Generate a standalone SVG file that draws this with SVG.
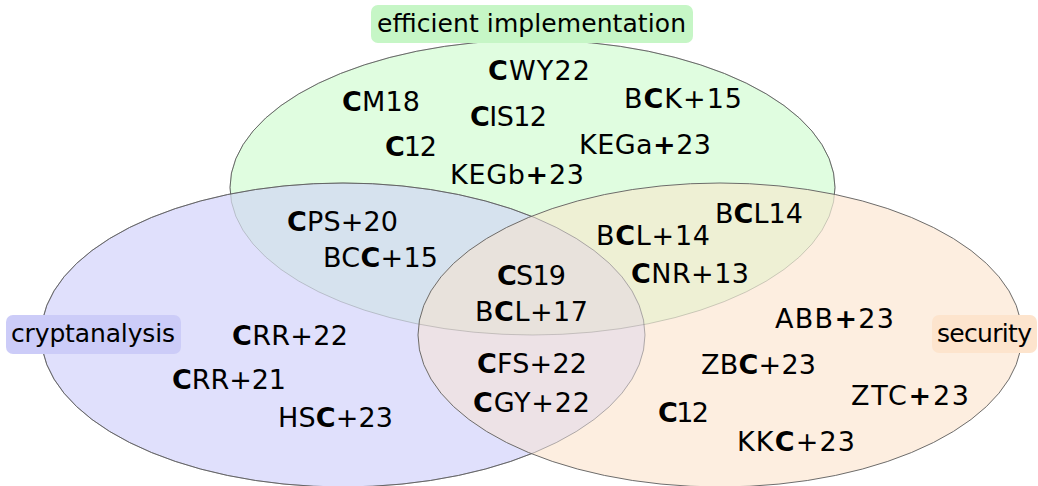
<svg xmlns="http://www.w3.org/2000/svg" xmlns:xlink="http://www.w3.org/1999/xlink" width="1038" height="486" viewBox="0 0 1038 486">
<style>
text{font-family:"DejaVu Sans","Liberation Sans",sans-serif;font-size:25px;fill:#000}
.it text{font-size:27px}
.b{font-weight:bold}
.edge{fill:none;stroke:#5c5c5c;stroke-width:0.9}
</style>
<defs>
<ellipse id="eG" cx="532.5" cy="187.5" rx="302.5" ry="147.5"/>
<ellipse id="eP" cx="343" cy="335" rx="302" ry="152"/>
<ellipse id="eO" cx="720" cy="335" rx="302" ry="152"/>
<clipPath id="cG"><ellipse cx="532.5" cy="187.5" rx="302.5" ry="147.5"/></clipPath>
<clipPath id="cP"><ellipse cx="343" cy="335" rx="302" ry="152"/></clipPath>
<mask id="mOutPO"><rect width="1038" height="486" fill="#fff"/><ellipse cx="343" cy="335" rx="302" ry="152" fill="#000"/><ellipse cx="720" cy="335" rx="302" ry="152" fill="#000"/></mask>
<mask id="mOutO"><rect width="1038" height="486" fill="#fff"/><ellipse cx="720" cy="335" rx="302" ry="152" fill="#000"/></mask>
</defs>
<g id="sets">
<use xlink:href="#eG" href="#eG" fill="#e0fde0"/>
<use xlink:href="#eP" href="#eP" fill="#e0e0fc"/>
<use xlink:href="#eO" href="#eO" fill="#fdeee0"/>
<use xlink:href="#eP" href="#eP" fill="#d6e2ee" clip-path="url(#cG)"/>
<use xlink:href="#eO" href="#eO" fill="#eef0d4" clip-path="url(#cG)"/>
<use xlink:href="#eO" href="#eO" fill="#ede2e6" clip-path="url(#cP)"/>
<g clip-path="url(#cG)"><use xlink:href="#eO" href="#eO" fill="#e8e2dc" clip-path="url(#cP)"/></g>
<use xlink:href="#eG" href="#eG" class="edge" opacity="0.3"/>
<use xlink:href="#eG" href="#eG" class="edge" mask="url(#mOutPO)"/>
<use xlink:href="#eP" href="#eP" class="edge" opacity="0.5"/>
<use xlink:href="#eP" href="#eP" class="edge" mask="url(#mOutO)"/>
<use xlink:href="#eO" href="#eO" class="edge"/>
</g>
<g id="label-efficient">
<rect x="371" y="5" width="322" height="38" rx="7" fill="#c6f6c6"/>
<text x="377" y="32" textLength="309">efficient implementation</text>
</g>
<g id="label-cryptanalysis">
<rect x="6" y="315" width="175" height="39" rx="7" fill="#ccccf8"/>
<text x="11" y="342" textLength="164">cryptanalysis</text>
</g>
<g id="label-security">
<rect x="932" y="315" width="105" height="38" rx="7" fill="#fde4cd"/>
<text x="937" y="342" textLength="95">security</text>
</g>
<g class="it">
<g id="efficient-only">
<text x="488" y="80" textLength="102"><tspan class="b">C</tspan>WY22</text>
<text x="342" y="111" textLength="78"><tspan class="b">C</tspan>M18</text>
<text x="470" y="126" textLength="77"><tspan class="b">C</tspan>IS12</text>
<text x="624" y="108" textLength="118">B<tspan class="b">C</tspan>K+15</text>
<text x="385" y="156" textLength="52"><tspan class="b">C</tspan>12</text>
<text x="579" y="154" textLength="132">KEGa<tspan class="b">+</tspan>23</text>
<text x="450" y="184" textLength="134">KEGb<tspan class="b">+</tspan>23</text>
</g>
<g id="efficient-cryptanalysis">
<text x="287" y="231" textLength="111"><tspan class="b">C</tspan>PS+20</text>
<text x="323" y="267" textLength="115">BC<tspan class="b">C</tspan>+15</text>
</g>
<g id="efficient-security">
<text x="715" y="223" textLength="88">B<tspan class="b">C</tspan>L14</text>
<text x="596" y="245" textLength="114">B<tspan class="b">C</tspan>L+14</text>
<text x="631" y="283" textLength="118"><tspan class="b">C</tspan>NR+13</text>
</g>
<g id="all-three">
<text x="497" y="285" textLength="69"><tspan class="b">C</tspan>S19</text>
<text x="475" y="321" textLength="113">B<tspan class="b">C</tspan>L+17</text>
</g>
<g id="cryptanalysis-security">
<text x="477" y="373" textLength="110"><tspan class="b">C</tspan>FS+22</text>
<text x="473" y="412" textLength="117"><tspan class="b">C</tspan>GY+22</text>
</g>
<g id="cryptanalysis-only">
<text x="232" y="345" textLength="116"><tspan class="b">C</tspan>RR+22</text>
<text x="172" y="389" textLength="114"><tspan class="b">C</tspan>RR+21</text>
<text x="278" y="427" textLength="115">HS<tspan class="b">C</tspan>+23</text>
</g>
<g id="security-only">
<text x="775" y="328" textLength="119">ABB<tspan class="b">+</tspan>23</text>
<text x="701" y="374" textLength="115">ZB<tspan class="b">C</tspan>+23</text>
<text x="851" y="405" textLength="118">ZTC<tspan class="b">+</tspan>23</text>
<text x="658" y="422" textLength="51"><tspan class="b">C</tspan>12</text>
<text x="737" y="451" textLength="118">KK<tspan class="b">C</tspan>+23</text>
</g>
</g>
</svg>
